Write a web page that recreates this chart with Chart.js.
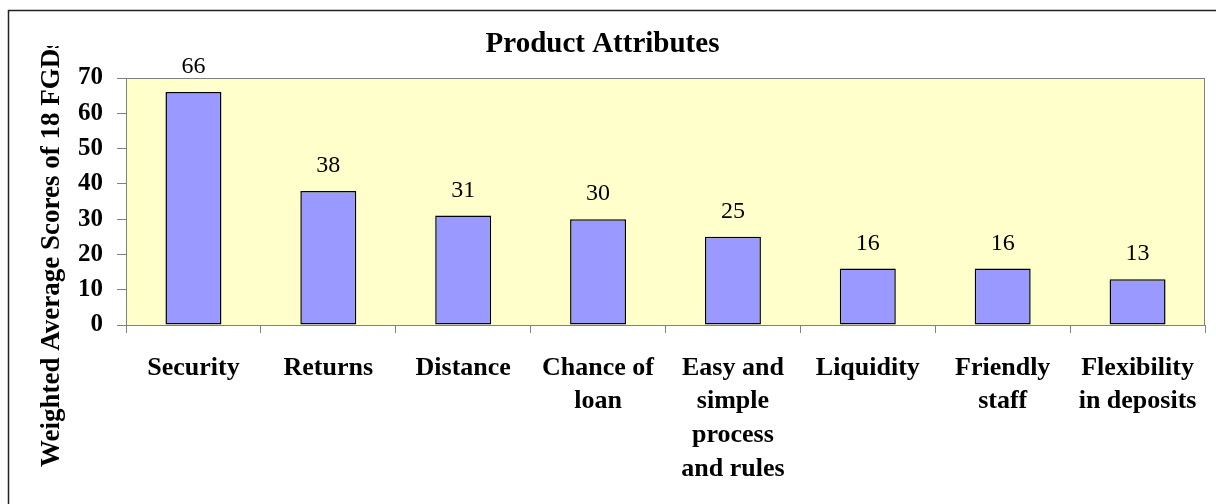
<!DOCTYPE html>
<html>
<head>
<meta charset="utf-8">
<script src="https://cdn.jsdelivr.net/npm/chart.js@4/dist/chart.umd.min.js"></script>
<style>
  html, body { margin: 0; padding: 0; background: #fff; }
  #wrap { width: 1216px; height: 504px; position: relative; }
</style>
</head>
<body>
<div id="wrap"><canvas id="c" width="1216" height="504"></canvas></div>
<script>
// data
var categories = [
  'Security',
  'Returns',
  'Distance',
  ['Chance of', 'loan'],
  ['Easy and', 'simple', 'process', 'and rules'],
  'Liquidity',
  ['Friendly', 'staff'],
  ['Flexibility', 'in deposits']
];
var scores = [66, 38, 31, 30, 25, 16, 16, 13];
var yTicks = [0, 10, 20, 30, 40, 50, 60, 70];
var chartTitle = 'Product Attributes';
var yTitle = 'Weighted Average Scores of 18 FGDs';

var serif = '"Liberation Serif", "Times New Roman", Times, serif';

// frame, plot background, value labels and the y title
var decor = {
  id: 'decor',
  beforeDraw: function(chart) {
    var ctx = chart.ctx, a = chart.chartArea;
    ctx.save();
    ctx.fillStyle = '#fff';
    ctx.fillRect(0, 0, chart.width, chart.height);
    ctx.strokeStyle = '#222';
    ctx.lineWidth = 1.5;
    ctx.strokeRect(8.5, 10.5, 1400, 700);
    ctx.fillStyle = '#FFFFCC';
    ctx.fillRect(a.left, a.top, a.right - a.left, a.bottom - a.top);
    ctx.strokeStyle = '#808080';
    ctx.lineWidth = 1;
    ctx.strokeRect(a.left + 0.5, a.top + 0.5, a.right - a.left - 1, a.bottom - a.top);
    ctx.restore();
  },
  afterDatasetsDraw: function(chart) {
    var ctx = chart.ctx;
    var meta = chart.getDatasetMeta(0);
    ctx.save();
    ctx.fillStyle = '#000';
    ctx.font = '24px ' + serif;
    ctx.textAlign = 'center';
    ctx.textBaseline = 'alphabetic';
    meta.data.forEach(function(bar, i) {
      ctx.fillText(String(scores[i]), bar.x, bar.y - 19);
    });
    // rotated y title, cut at the top like the original
    ctx.beginPath();
    ctx.rect(0, 46, 110, 460);
    ctx.clip();
    ctx.translate(59, 467);
    ctx.rotate(-Math.PI / 2);
    ctx.font = 'bold 27px ' + serif;
    ctx.textAlign = 'left';
    ctx.textBaseline = 'alphabetic';
    ctx.fillText(yTitle, 0, 0);
    ctx.restore();
  }
};

new Chart(document.getElementById('c'), {
  type: 'bar',
  data: {
    labels: categories,
    datasets: [{
      data: scores,
      backgroundColor: '#9999FF',
      borderColor: '#000',
      borderWidth: 1.5,
      borderSkipped: false,
      categoryPercentage: 1,
      barPercentage: 0.415
    }]
  },
  options: {
    responsive: false,
    animation: false,
    devicePixelRatio: 1,
    layout: { padding: { left: 0, right: 11, top: 0, bottom: 0 } },
    plugins: {
      legend: { display: false },
      tooltip: { enabled: false },
      title: {
        display: true,
        text: chartTitle,
        color: '#000',
        font: { family: serif, size: 29, weight: 'bold', lineHeight: 1.2 },
        padding: { top: 27.6, bottom: 15.6 }
      }
    },
    scales: {
      x: {
        grid: { display: true, drawOnChartArea: false, offset: true, tickLength: 8, color: '#808080', tickColor: '#808080' },
        border: { color: '#808080' },
        ticks: {
          color: '#000',
          maxRotation: 0,
          autoSkip: false,
          padding: 18,
          font: { family: serif, size: 26, weight: 'bold', lineHeight: 1.3 }
        },
        afterFit: function(s) { s.height = 179; }
      },
      y: {
        min: 0,
        max: 70,
        afterBuildTicks: function(s) { s.ticks = yTicks.map(function(v) { return { value: v }; }); },
        grid: { drawOnChartArea: false, tickLength: 9, color: '#808080', tickColor: '#808080' },
        border: { color: '#808080' },
        ticks: {
          color: '#000',
          padding: 14,
          font: { family: serif, size: 25, weight: 'bold' }
        },
        afterFit: function(s) { s.width = 126; }
      }
    }
  },
  plugins: [decor]
});
</script>
</body>
</html>
